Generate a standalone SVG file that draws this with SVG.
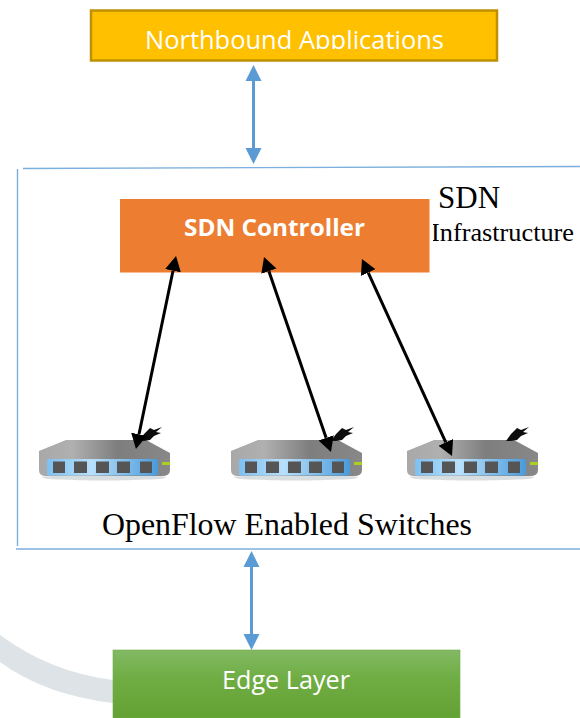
<svg xmlns="http://www.w3.org/2000/svg" width="580" height="718" viewBox="0 0 580 718">
<style>
.sans{font-family:"Open Sans","Noto Sans",sans-serif;fill:#fff}
.serif{font-family:"Liberation Serif",serif;fill:#000}
.blue{stroke:#5b9bd5;stroke-width:3;fill:none}
.frame{stroke:#5b9bd5;stroke-width:1.4;fill:none;opacity:.8}
.black{stroke:#000;stroke-width:3;fill:none}
</style>
<defs>
<marker id="headBlue" markerUnits="userSpaceOnUse" markerWidth="17" markerHeight="18" viewBox="0 -9 17 18" refX="0" refY="0" orient="auto-start-reverse"><path d="M0,-8L16,0L0,8Z" fill="#5b9bd5"/></marker>
<marker id="headBlack" markerUnits="userSpaceOnUse" markerWidth="17" markerHeight="18" viewBox="0 -9 17 18" refX="0" refY="0" orient="auto-start-reverse"><path d="M0,-8L15,0L0,8Z" fill="#000"/></marker>
<linearGradient id="bodyGrad" x1="0" x2="1" y1="0" y2="0"><stop offset="0" stop-color="#a8a8a8"/><stop offset=".25" stop-color="#b0b0b0"/><stop offset=".6" stop-color="#7e7e7e"/><stop offset="1" stop-color="#888"/></linearGradient>
<linearGradient id="panelGrad" x1="0" x2="1" y1="0" y2="0"><stop offset="0" stop-color="#7cc0f2"/><stop offset=".4" stop-color="#b8e0fb"/><stop offset="1" stop-color="#4a9bdc"/></linearGradient>
<linearGradient id="edgeGrad" x1="0" x2="0" y1="0" y2="1"><stop offset="0" stop-color="#83b964"/><stop offset=".4" stop-color="#70ae45"/><stop offset="1" stop-color="#63a133"/></linearGradient>
<filter id="soft" x="-5%" y="-10%" width="110%" height="120%"><feGaussianBlur stdDeviation=".6"/></filter>
<clipPath id="clipNorth"><rect x="90" y="9" width="408" height="40"/></clipPath>
<clipPath id="clipInfra"><rect x="433" y="215" width="146" height="35"/></clipPath>
<g id="switchShape" filter="url(#soft)">
<ellipse cx="104" cy="477.500" rx="62" ry="3" fill="#d8dde0"/>
<path d="M39,451L39,470Q39,476 46,476L162,476Q170,476 170,470L170,453L146,440L66,440Z" fill="url(#bodyGrad)"/>
<rect x="47" y="459" width="111" height="16.500" rx="2" fill="url(#panelGrad)"/>
<rect x="53" y="461.500" width="12" height="11.500" fill="#555"/>
<rect x="74" y="461.500" width="13" height="11.500" fill="#555"/>
<rect x="96" y="461.500" width="13" height="11.500" fill="#555"/>
<rect x="117" y="461.500" width="13" height="11.500" fill="#555"/>
<rect x="140" y="461.500" width="12" height="11.500" fill="#555"/>
<rect x="162" y="462" width="8" height="3" fill="#a8d020"/>
</g>
<path id="plugShape" d="M0,14L5,7L11,1L15,3L23,0L17,5L22,6L15,9L11,13L5,14Z" fill="#111" filter="url(#soft)"/>
</defs>

<path d="M0,635Q50,672 113,680L113,703Q45,695 0,662Z" fill="#dde3e6"/>

<g id="frame">
<path class="frame" d="M23,168.500L580,166.500"/>
<path class="frame" d="M17.500,169L17.500,546"/>
<path class="frame" d="M16,549L580,549"/>
</g>

<g id="northbound">
<rect x="91" y="10.500" width="406" height="50" fill="#ffc000" stroke="#bf9000" stroke-width="2.500"/>
<text class="sans" x="145" y="49" font-size="25" textLength="299" lengthAdjust="spacingAndGlyphs" clip-path="url(#clipNorth)">Northbound Applications</text>
</g>

<g id="controller">
<rect x="120" y="199" width="309.500" height="73.500" fill="#ed7d31"/>
<text class="sans" x="184" y="236" font-size="24" font-weight="700" textLength="181" lengthAdjust="spacingAndGlyphs">SDN Controller</text>
</g>

<g id="infra-label">
<text class="serif" x="438" y="208" font-size="31">SDN</text>
<text class="serif" x="431" y="241" font-size="26" textLength="143" lengthAdjust="spacingAndGlyphs" clip-path="url(#clipInfra)">Infrastructure</text>
</g>

<g id="switch1"><use href="#switchShape"/><use href="#plugShape" x="139" y="427"/></g>
<g id="switch2"><use href="#switchShape" x="192"/><use href="#plugShape" x="331" y="427"/></g>
<g id="switch3"><use href="#switchShape" x="368"/><use href="#plugShape" x="506" y="427"/></g>

<g id="switches-label">
<text class="serif" x="102" y="535" font-size="30.500" textLength="370" lengthAdjust="spacingAndGlyphs">OpenFlow Enabled Switches</text>
</g>

<g id="edge">
<rect x="113" y="650" width="347" height="68" fill="url(#edgeGrad)" stroke="#70ad47" stroke-width=".6"/>
<text class="sans" x="222" y="689" font-size="26" textLength="128" lengthAdjust="spacingAndGlyphs">Edge Layer</text>
</g>

<g id="connectors">
<path class="blue" d="M253.500,81L253.500,148" marker-start="url(#headBlue)" marker-end="url(#headBlue)"/>
<path class="blue" d="M251.500,567L251.500,634" marker-start="url(#headBlue)" marker-end="url(#headBlue)"/>
<path class="black" d="M173,270.700L139,434.300" marker-start="url(#headBlack)" marker-end="url(#headBlack)"/>
<path class="black" d="M268.900,271.200L326.100,437.800" marker-start="url(#headBlack)" marker-end="url(#headBlack)"/>
<path class="black" d="M368.200,272.600L445.800,442.400" marker-start="url(#headBlack)" marker-end="url(#headBlack)"/>
</g>
</svg>
